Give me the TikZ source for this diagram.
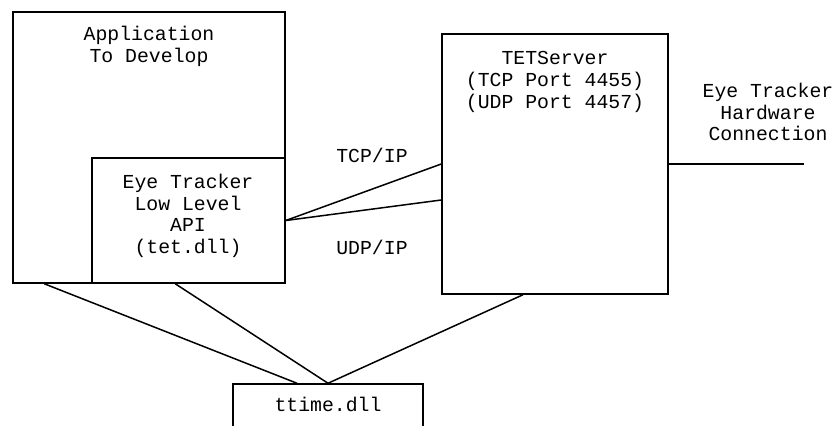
\documentclass[tikz,border=0pt]{standalone}
\usepackage{fontspec}
\setmonofont{Liberation Mono}
\usetikzlibrary{positioning}

\tikzset{
  box/.style={draw, line width=1.5pt, inner sep=0pt},
  lbl/.style={font=\ttfamily\fontsize{19.8}{21.6}\selectfont, align=center, inner sep=0pt},
  wire/.style={line width=1.5pt}
}

\begin{document}
\begin{tikzpicture}[x=1pt, y=-1pt, line join=miter]

  % page frame
  \useasboundingbox (0,0) rectangle (836,426);

  % boxes
  \node[box, minimum width=272pt, minimum height=271pt] (app) at (149,147.5) {};
  \node[box, minimum width=193pt, minimum height=125pt, fill=white] (api) at (188.5,220.5) {};
  \node[box, minimum width=226pt, minimum height=260pt] (srv) at (555,164) {};
  \node[box, minimum width=190pt, minimum height=84pt] (ttime) at (328,426) {};

  % texts
  \node[lbl] (appT) at (149,46.5) {Application\\To Develop};
  \node[lbl] (apiT) at (188,216) {Eye Tracker\\Low Level\\API\\(tet.dll)};
  \node[lbl] (srvT) at (555,82) {TETServer\\(TCP Port 4455)\\(UDP Port 4457)};
  \node[lbl] (hwT) at (768,112) {Eye Tracker\\Hardware\\Connection};
  \node[lbl] (ttimeT) at (328,404) {ttime.dll};
  \node[lbl] (tcp) at (372,155.5) {TCP/IP};
  \node[lbl] (udp) at (372,247) {UDP/IP};

  % connections
  \coordinate (hw) at (804,164);
  \draw[wire] (api.east) -- (srv.west);
  \draw[wire] (api.east) -- ([yshift=-36pt]srv.west);
  \draw[wire] (srv.east) -- (hw);
  \draw[wire] ([xshift=32pt]app.south west) -- ([xshift=-31pt]ttime.north);
  \draw[wire] ([xshift=84pt]api.south west) -- (ttime.north);
  \draw[wire] ([xshift=-32pt]srv.south) -- (ttime.north);

\end{tikzpicture}
\end{document}
